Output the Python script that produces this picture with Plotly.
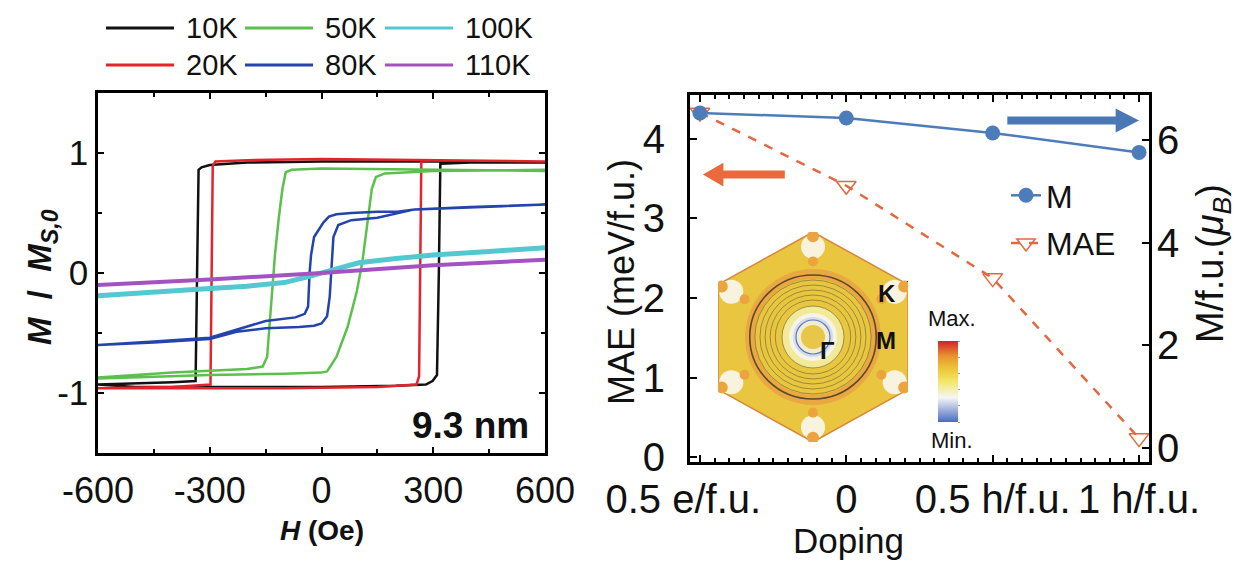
import plotly.graph_objects as go

W, H = 1236, 561
FONT = "Liberation Sans, Arial, Helvetica, sans-serif"
NB = "\u00a0"

# ---------------- Left panel data: M/Ms,0 vs H (Oe) ----------------
temps = ["10K", "20K", "50K", "80K", "100K", "110K"]
loop_colors = ["#111111", "#e3242b", "#5cc04c", "#2444ad", "#54c8d0", "#a452c2"]

h_10K = [600, 400, 200, 0, -200, -300, -322, -330, -334, -338, -400, -500, -600,
         -500, -300, 0, 200, 280, 298, 310, 315, 319, 400, 600]
m_10K = [0.92, 0.93, 0.93, 0.93, 0.92, 0.90, 0.88, 0.86, 0.0, -0.90, -0.91, -0.92, -0.93,
         -0.95, -0.95, -0.95, -0.94, -0.93, -0.90, -0.85, 0.0, 0.91, 0.92, 0.92]

h_20K = [600, 300, 0, -200, -285, -292, -295, -298, -400, -600,
         -400, -100, 150, 255, 262, 265, 268, 300, 600]
m_20K = [0.93, 0.94, 0.95, 0.94, 0.93, 0.89, 0.0, -0.93, -0.95, -0.96,
         -0.96, -0.96, -0.95, -0.93, -0.86, 0.0, 0.93, 0.94, 0.93]

h_50K = [600, 300, 0, -80, -96, -105, -115, -125, -133, -140, -146, -158, -200, -400, -600,
         -600, -300, -100, 0, 15, 40, 70, 95, 110, 125, 135, 146, 170, 300, 600]
m_50K = [0.85, 0.86, 0.87, 0.86, 0.84, 0.70, 0.45, 0.15, -0.15, -0.45, -0.70, -0.78, -0.80, -0.83, -0.87,
         -0.88, -0.85, -0.84, -0.83, -0.82, -0.70, -0.45, -0.15, 0.10, 0.45, 0.70, 0.80, 0.83, 0.85, 0.86]

h_80K = [600, 400, 250, 204, 150, 80, 40, 20, 5, -20, -28, -32, -34, -36, -45, -70, -150, -228, -300, -450, -600,
         -600, -450, -300, -228, -150, -60, -20, 0, 15, 22, 25, 28, 32, 45, 80, 150, 204, 250, 400, 600]
m_80K = [0.57, 0.55, 0.53, 0.51, 0.51, 0.50, 0.49, 0.47, 0.42, 0.30, 0.15, 0.0, -0.15, -0.28, -0.34, -0.37, -0.40, -0.47, -0.54, -0.57, -0.60,
         -0.60, -0.58, -0.55, -0.49, -0.46, -0.45, -0.44, -0.42, -0.36, -0.20, -0.05, 0.15, 0.30, 0.40, 0.44, 0.46, 0.50, 0.53, 0.55, 0.57]

h_100K = [-600, -450, -300, -200, -100, -40, 0, 40, 100, 200, 300, 450, 600]
m_100K = [-0.19, -0.155, -0.13, -0.11, -0.08, -0.035, 0.0, 0.04, 0.085, 0.12, 0.15, 0.18, 0.21]

h_110K = [-600, -300, 0, 300, 600]
m_110K = [-0.10, -0.055, 0.0, 0.065, 0.11]

loop_h = [h_10K, h_20K, h_50K, h_80K, h_100K, h_110K]
loop_m = [m_10K, m_20K, m_50K, m_80K, m_100K, m_110K]
loop_widths = [2.5, 2.5, 2.5, 2.5, 5, 4]

h_ticks = [-600, -300, 0, 300, 600]
h_tick_labels = ["-600", "-300", "0", "300", "600"]
m_ticks = [-1, 0, 1]
m_tick_labels = ["-1", "0", "1"]

# ---------------- Right panel data: MAE and M vs doping ----------------
doping = [-0.5, 0.0, 0.5, 1.0]
doping_labels = ["0.5 e/f.u.", "0", "0.5 h/f.u.", "1 h/f.u."]
mae = [4.33, 3.41, 2.25, 0.24]
moment = [6.53, 6.43, 6.14, 5.76]
mae_ticks = [0, 1, 2, 3, 4]
moment_ticks = [0, 2, 4, 6]

BLUE = "#4d7cba"
ORANGE = "#e4683f"

# first doping label sits a little left of its tick in the reference
doping_tick_text = [doping_labels[0] + NB * 3] + doping_labels[1:]


def px(x):
    return x / W


def py(y):
    return 1 - y / H


fig = go.Figure()

# left loops
for name, hh, mm, c, w in zip(temps, loop_h, loop_m, loop_colors, loop_widths):
    fig.add_trace(go.Scatter(x=hh, y=mm, mode="lines", name=name, showlegend=False,
                             line=dict(color=c, width=w), xaxis="x", yaxis="y"))

# right panel
fig.add_trace(go.Scatter(x=doping, y=moment, name="M", mode="lines+markers",
                         line=dict(color=BLUE, width=2.5),
                         marker=dict(symbol="circle", size=15, color=BLUE),
                         xaxis="x2", yaxis="y3", legendgroup="a"))
fig.add_trace(go.Scatter(x=doping, y=mae, name="MAE", mode="lines+markers",
                         line=dict(color=ORANGE, width=2.5, dash="dash"),
                         marker=dict(symbol="triangle-down-open", size=17, color=ORANGE,
                                     line=dict(width=1.5, color=ORANGE)),
                         xaxis="x2", yaxis="y2", legendgroup="b"))

# inset (Brillouin zone sketch) on hidden axes x4/y4
hexagon = [(0, 105), (95, 52.5), (95, -52.5), (0, -105), (-95, -52.5), (-95, 52.5)]
shapes = []
path = "M " + " L ".join(f"{x},{y}" for x, y in hexagon) + " Z"
shapes.append(dict(type="path", path=path, xref="x4", yref="y4",
                   fillcolor="#eac640", line=dict(color="#d9863a", width=1.5), layer="above"))


def circ(r, rx_scale=1.0, fill=None, line_color=None, lw=0, cx=0, cy=0):
    rx = r * rx_scale
    d = dict(type="circle", xref="x4", yref="y4", x0=cx - rx, x1=cx + rx, y0=cy - r, y1=cy + r,
             layer="above", line=dict(width=lw, color=line_color or "rgba(0,0,0,0)"))
    if fill:
        d["fillcolor"] = fill
    return d


# vertex blobs
for vx, vy in hexagon:
    shapes.append(circ(12, fill="#f8f3de", cx=vx * 0.86, cy=vy * 0.86))
    shapes.append(circ(6, fill="#eba43e", cx=vx * 0.96, cy=vy * 0.96))
    shapes.append(circ(5, fill="#eba43e", cx=vx * 0.72, cy=vy * 0.72))

shapes.append(circ(68, fill="#eaa842"))
shapes.append(circ(58, fill="#e8c640"))
for r, col, lw in [(62, "#5b4a2c", 1.6), (57, "#8a7a36", 0.8), (52, "#8a7a36", 0.8),
                   (47, "#8a7a36", 0.8), (42, "#8a7a36", 0.8), (37, "#8a7a36", 0.8)]:
    shapes.append(circ(r, rx_scale=1.02, line_color=col, lw=lw))
shapes.append(circ(31, fill="#f2e99a", line_color="#8a7a36", lw=0.8))
shapes.append(circ(24, fill="#f7f4e6"))
shapes.append(circ(20, fill="#d3dbef"))
shapes.append(circ(17, fill="#f2ecd0", line_color="#5a78c0", lw=1.2))
shapes.append(circ(12, fill="#e7c64a"))

# arrows (shaft + head) in axis coordinates of the right panel
ARROW_Y_LEFT = 3.55
ARROW_Y_RIGHT = 4.23
shapes.append(dict(type="line", xref="x2", yref="y2", x0=-0.43, x1=-0.21, y0=ARROW_Y_LEFT, y1=ARROW_Y_LEFT,
                   line=dict(color="#ea6a3e", width=8), layer="above"))
shapes.append(dict(type="path", xref="x2", yref="y2", fillcolor="#ea6a3e", line=dict(width=0), layer="above",
                   path=f"M -0.49,{ARROW_Y_LEFT} L -0.42,{ARROW_Y_LEFT + 0.15} L -0.42,{ARROW_Y_LEFT - 0.15} Z"))
shapes.append(dict(type="line", xref="x2", yref="y2", x0=0.55, x1=0.93, y0=ARROW_Y_RIGHT, y1=ARROW_Y_RIGHT,
                   line=dict(color="#4a78b5", width=8), layer="above"))
shapes.append(dict(type="path", xref="x2", yref="y2", fillcolor="#4a78b5", line=dict(width=0), layer="above",
                   path=f"M 1.0,{ARROW_Y_RIGHT} L 0.92,{ARROW_Y_RIGHT + 0.15} L 0.92,{ARROW_Y_RIGHT - 0.15} Z"))

# left legend (manual, two rows x three columns)
legend_cells = [("10K", 0, 0), ("50K", 0, 1), ("100K", 0, 2), ("20K", 1, 0), ("80K", 1, 1), ("110K", 1, 2)]
col_x = [106, 245, 385]
row_y = [28, 65]
annotations = []
for name, r, c in legend_cells:
    color = loop_colors[temps.index(name)]
    shapes.append(dict(type="line", xref="paper", yref="paper",
                       x0=px(col_x[c]), x1=px(col_x[c] + 68), y0=py(row_y[r]), y1=py(row_y[r]),
                       line=dict(color=color, width=3)))
    annotations.append(dict(text=name, xref="paper", yref="paper", x=px(col_x[c] + 78), y=py(row_y[r]),
                            xanchor="left", yanchor="middle", showarrow=False,
                            font=dict(size=29, color="#111", family=FONT)))


def ann(text, x, y, size, angle=0, xanchor="center", yanchor="middle", color="#111"):
    annotations.append(dict(text=text, x=px(x), y=py(y), xref="paper", yref="paper", showarrow=False,
                            textangle=angle, xanchor=xanchor, yanchor=yanchor,
                            font=dict(size=size, family=FONT, color=color)))


ann("<b>9.3 nm</b>", 470, 425, 37)
ann("<b><i>M</i>" + NB * 2 + "/" + NB * 2 + "<i>M</i><sub><i>S,0</i></sub></b>", 42, 277, 33, angle=-90)
ann("<b><i>H</i> (Oe)</b>", 322, 530, 28)
ann("MAE (meV/f.u.)", 621, 282, 36, angle=-90)
ann("M/f.u.(<i>μ</i><sub><i>B</i></sub>)", 1213, 264, 38, angle=-90)
ann("Doping", 848, 540, 35)
ann("<b>K</b>", 887, 293, 24)
ann("<b>M</b>", 886, 340, 24)
ann("<b>Γ</b>", 827, 350, 24)
ann("Max.", 952, 318, 22)
ann("Min.", 952, 440, 22)

# inset dots + colorbar carrier
fig.add_trace(go.Scatter(x=[0, 95, 95], y=[0, 52.5, 0], mode="markers", showlegend=False,
                         marker=dict(color="black", size=7), xaxis="x4", yaxis="y4", hoverinfo="skip"))
fig.add_trace(go.Scatter(x=[0], y=[0], mode="markers", showlegend=False, xaxis="x4", yaxis="y4",
                         hoverinfo="skip",
                         marker=dict(size=0.1, opacity=0, color=[0.5], cmin=0, cmax=1, showscale=True,
                                     colorscale=[[0, "#4a6cc0"], [0.3, "#f5f5f5"], [0.5, "#f3e76a"],
                                                 [0.68, "#ebc034"], [0.82, "#e8902e"], [1, "#d0222a"]],
                                     colorbar=dict(x=px(938), xanchor="left", y=py(381.5), yanchor="middle",
                                                   len=81, lenmode="pixels", thickness=20,
                                                   thicknessmode="pixels", xpad=0, ypad=0,
                                                   outlinewidth=0, showticklabels=False,
                                                   ticks="outside", ticklen=2, nticks=8,
                                                   tickcolor="#999"))))

axis_common = dict(showgrid=False, zeroline=False, showline=True, linecolor="black", ticks="inside",
                   tickcolor="black")


def tf(size):
    return dict(size=size, family=FONT, color="#111")


fig.update_layout(
    width=W, height=H, autosize=False,
    margin=dict(l=0, r=0, t=0, b=0, autoexpand=False),
    paper_bgcolor="white", plot_bgcolor="rgba(0,0,0,0)",
    font=dict(family=FONT, color="#111"),
    xaxis=dict(domain=[px(98), px(545)], range=[-600, 600], anchor="y", tickvals=h_ticks,
               ticktext=h_tick_labels, tickfont=tf(36), tickangle=0,
               ticklen=6, tickwidth=1.5, linewidth=2.5, mirror="ticks", ticklabelstandoff=4,
               minor=dict(dtick=150, ticklen=4, ticks="inside", tickcolor="black"), **axis_common),
    yaxis=dict(domain=[py(453), py(93)], range=[-1.5, 1.5], anchor="x", tickvals=m_ticks,
               ticktext=m_tick_labels, tickfont=tf(35),
               ticklen=6, tickwidth=1.5, linewidth=2.5, mirror="ticks", ticklabelstandoff=0,
               minor=dict(dtick=0.5, ticklen=4, ticks="inside", tickcolor="black"), **axis_common),
    xaxis2=dict(domain=[px(690), px(1149)], range=[-0.534, 1.034], anchor="y2", tickvals=doping,
                ticktext=doping_tick_text, tickfont=tf(40), tickangle=0, ticklen=7, tickwidth=2,
                linewidth=3, mirror="ticks", ticklabelstandoff=0,
                minor=dict(dtick=0.05, ticklen=4, ticks="inside", tickcolor="black"), **axis_common),
    yaxis2=dict(domain=[py(462), py(95)], range=[-0.06, 4.55], anchor="x2", tickvals=mae_ticks,
                tickfont=tf(40), ticklen=7, tickwidth=2, linewidth=3, ticklabelstandoff=14, **axis_common),
    yaxis3=dict(overlaying="y2", side="right", range=[-0.28, 6.88], anchor="x2", tickvals=moment_ticks,
                tickfont=tf(40), ticklen=7, tickwidth=2, linewidth=3, ticklabelstandoff=-3, **axis_common),
    xaxis4=dict(domain=[px(718), px(908)], range=[-95, 95], anchor="y4", visible=False),
    yaxis4=dict(domain=[py(442), py(232)], range=[-105, 105], anchor="x4", visible=False),
    legend=dict(x=px(1006), y=py(168), xanchor="left", yanchor="top", traceorder="grouped",
                tracegroupgap=3, bgcolor="rgba(0,0,0,0)", font=dict(size=32, family=FONT, color="#111"),
                itemwidth=30),
    shapes=shapes,
    annotations=annotations,
)

fig.write_html("out.html", config={"displayModeBar": False},
               post_script="document.body.style.margin='0';")
